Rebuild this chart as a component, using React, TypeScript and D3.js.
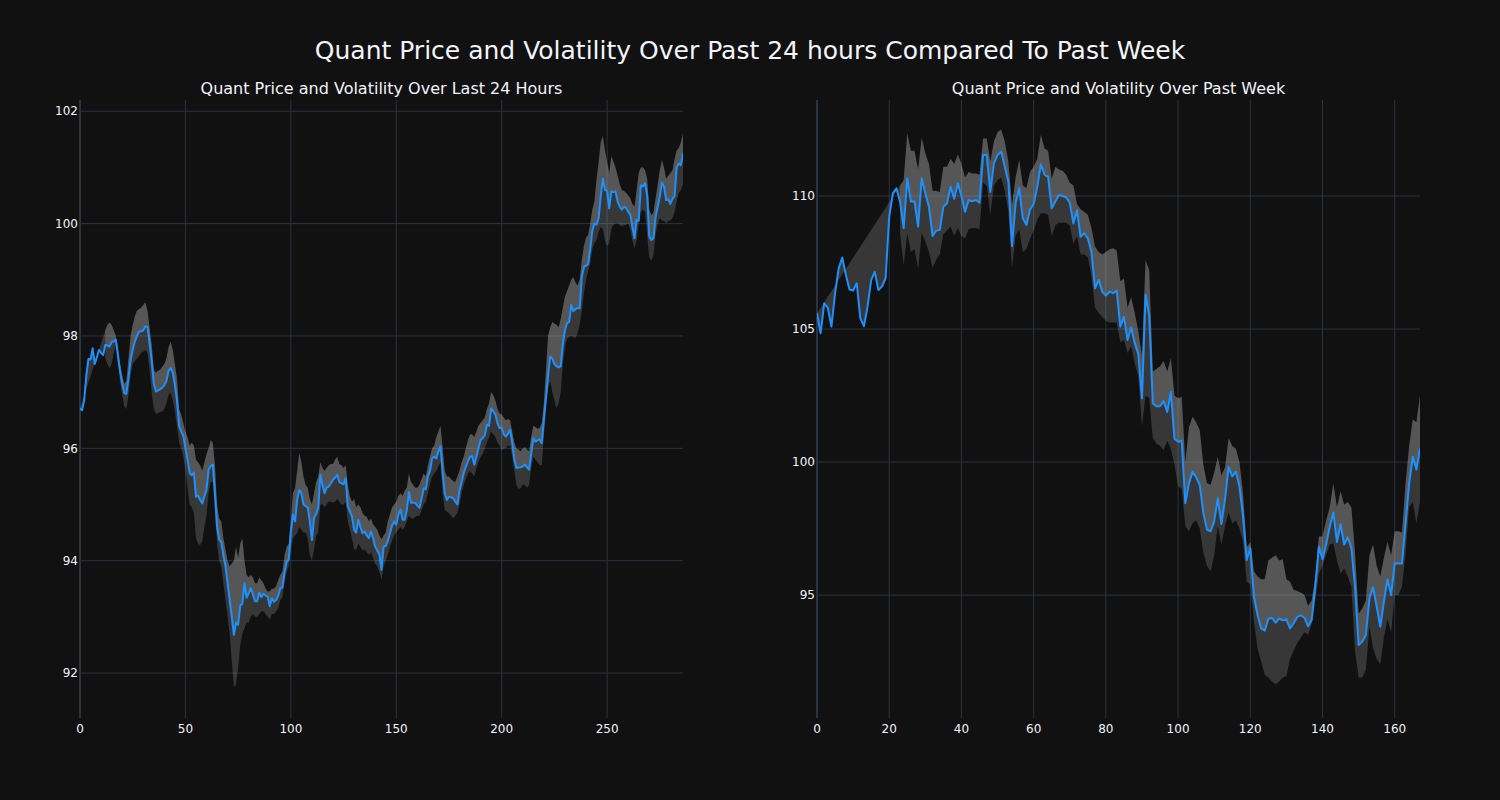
import React from "react";
import * as d3 from "d3";

// ---------- DATA ----------
const mainTitle = "Quant Price and Volatility Over Past 24 hours Compared To Past Week";
const dayTitle = "Quant Price and Volatility Over Last 24 Hours";
const weekTitle = "Quant Price and Volatility Over Past Week";

// 24h price (5‑minute steps, index 0..286)
const dayPrice = [
  96.71, 96.68, 96.86, 97.3, 97.59, 97.58, 97.78, 97.5, 97.62, 97.75,
  97.7, 97.66, 97.84, 97.83, 97.81, 97.89, 97.9, 97.93, 97.65, 97.38,
  97.15, 96.98, 96.97, 97.25, 97.57, 97.75, 97.9, 98.0, 98.08, 98.08,
  98.1, 98.17, 98.16, 97.87, 97.55, 97.15, 97.01, 97.03, 97.05, 97.08,
  97.12, 97.2, 97.38, 97.43, 97.35, 97.13, 96.85, 96.4, 96.3, 96.22,
  96.0, 95.8, 95.56, 95.52, 95.57, 95.14, 95.16, 95.08, 95.02, 95.15,
  95.26, 95.62, 95.68, 95.71, 95.2, 94.6, 94.38, 94.33, 94.1, 93.9,
  93.6, 93.3, 93.0, 92.68, 92.9, 92.86, 93.2, 93.23, 93.6, 93.34,
  93.42, 93.51, 93.4, 93.28, 93.28, 93.43, 93.35, 93.41, 93.38, 93.36,
  93.19, 93.33, 93.27, 93.3, 93.37, 93.51, 93.52, 93.8, 93.98, 94.02,
  94.5, 94.82, 94.7, 95.08, 95.26, 95.2, 95.0, 94.97, 94.95, 94.7,
  94.37, 94.76, 94.83, 94.94, 95.53, 95.35, 95.2, 95.3, 95.32, 95.38,
  95.44, 95.48, 95.53, 95.4, 95.38, 95.36, 95.47, 94.97, 94.88, 94.79,
  94.55, 94.5, 94.73, 94.6, 94.49, 94.52, 94.45, 94.4, 94.52, 94.4,
  94.25, 94.18, 94.11, 93.84, 94.25, 94.26, 94.35, 94.49, 94.62, 94.7,
  94.64, 94.82, 94.91, 94.73, 94.73, 94.9, 95.22, 95.03, 95.03, 95.03,
  94.98, 94.94, 95.1, 95.29, 95.27, 95.5, 95.6, 95.82, 95.85, 95.82,
  95.95, 96.04, 95.56, 95.2, 95.08, 95.14, 95.13, 95.11, 95.05, 95.0,
  95.25, 95.4, 95.56, 95.67, 95.77, 95.85, 95.86, 95.71, 95.85, 96.0,
  96.15, 96.18, 96.23, 96.42, 96.4, 96.71, 96.66, 96.6, 96.45, 96.36,
  96.36, 96.25, 96.21, 96.26, 96.33, 96.1, 95.8, 95.65, 95.66, 95.66,
  95.68, 95.71, 95.66, 95.62, 95.9, 96.18, 96.12, 96.14, 96.16, 96.09,
  96.5, 96.9, 97.3, 97.63, 97.6, 97.5, 97.46, 97.44, 97.46, 97.85,
  98.1, 98.23, 98.25, 98.55, 98.44, 98.48, 98.5, 98.49, 99.05, 99.23,
  99.25, 99.28, 99.55, 99.88, 100.0, 99.98, 100.1, 100.5, 100.8, 100.6,
  100.58, 100.27, 100.57, 100.56, 100.57, 100.39, 100.3, 100.25, 100.3, 100.28,
  100.21, 100.16, 99.94, 99.74, 100.07, 100.05, 100.68, 100.66, 100.72, 100.5,
  99.77, 99.71, 99.74, 100.12, 100.3, 100.48, 100.73, 100.66, 100.42, 100.43,
  100.35, 100.44, 100.49, 101.0, 101.07, 101.04, 101.25,
];

// first index where the 24h band exists
const dayBandStart = 12;

// 24h upper band, indices 12..286
const dayUpper = [
  98.1, 98.2, 98.24, 98.2, 98.1, 98.0, 97.8, 97.5,
  97.3, 97.15, 97.2, 97.6, 98.0, 98.2, 98.35, 98.45, 98.48, 98.5,
  98.55, 98.6, 98.45, 98.15, 97.85, 97.4, 97.35, 97.38, 97.4, 97.45,
  97.5, 97.6, 97.8, 97.9, 97.75, 97.5, 97.25, 96.7, 96.6, 96.45,
  96.3, 96.2, 96.05, 96.1, 96.05, 95.8, 95.75, 95.7, 95.6, 95.75,
  95.9, 96.0, 96.15, 96.1, 95.7, 95.0, 94.75, 94.7, 94.4, 94.2,
  94.0, 93.9, 93.95, 94.0, 94.25, 94.05, 94.3, 94.4, 94.0, 93.75,
  93.7, 93.75, 93.7, 93.6, 93.6, 93.7, 93.65, 93.6, 93.5, 93.45,
  93.45, 93.5, 93.5, 93.55, 93.65, 93.75, 93.8, 94.1, 94.25, 94.3,
  94.7, 95.2, 95.3, 95.6, 95.92, 95.75, 95.5, 95.35, 95.3, 95.1,
  95.0, 95.2, 95.4, 95.5, 95.75, 95.65, 95.6, 95.65, 95.7, 95.72,
  95.72, 95.8, 95.85, 95.72, 95.7, 95.65, 95.7, 95.35, 95.15, 95.05,
  95.1, 94.95, 95.0, 94.95, 94.85, 94.8, 94.78, 94.7, 94.75, 94.65,
  94.6, 94.55, 94.45, 94.38, 94.45, 94.5, 94.7, 94.82, 94.95, 95.0,
  95.05, 95.15, 95.2, 95.15, 95.25, 95.3, 95.55, 95.4, 95.35, 95.3,
  95.3, 95.35, 95.45, 95.55, 95.5, 95.7, 95.85, 96.0, 96.05, 96.2,
  96.3, 96.4, 96.0, 95.6, 95.5, 95.5, 95.45, 95.42, 95.4, 95.5,
  95.6, 95.75, 95.85, 96.0, 96.15, 96.25, 96.25, 96.2, 96.3, 96.4,
  96.45, 96.5, 96.55, 96.7, 96.8, 97.0, 96.95, 96.85, 96.7, 96.62,
  96.6, 96.55, 96.5, 96.52, 96.5, 96.3, 96.1, 96.0, 95.98, 95.95,
  96.0, 96.02, 95.98, 95.95, 96.2, 96.4, 96.38, 96.35, 96.36, 96.45,
  96.8, 97.4, 98.0, 98.15, 98.25, 98.22, 98.2, 98.15, 98.3, 98.5,
  98.7, 98.8, 98.9, 99.0, 99.05, 98.95, 98.9, 99.0, 99.35, 99.6,
  99.75, 99.8, 100.0, 100.25, 100.4, 100.8, 101.1, 101.45, 101.56, 101.3,
  101.1, 100.9, 101.2, 101.1, 101.0, 100.85, 100.7, 100.6, 100.58, 100.55,
  100.5, 100.45, 100.35, 100.3, 100.6, 100.9, 101.0, 101.0, 100.95, 100.8,
  100.25, 100.15, 100.2, 100.45, 100.7, 100.95, 101.13, 101.0, 100.8, 100.85,
  100.9, 100.95, 101.15, 101.3, 101.35, 101.45, 101.6,
];

// 24h lower band, indices 12..286
const dayLower = [
  97.6, 97.5, 97.43, 97.5, 97.7, 97.85, 97.5, 97.2,
  96.95, 96.75, 96.7, 96.95, 97.3, 97.5, 97.55, 97.6, 97.65, 97.7,
  97.72, 97.75, 97.7, 97.4, 97.0, 96.7, 96.62, 96.62, 96.65, 96.65,
  96.7, 96.8, 96.95, 97.0, 96.85, 96.65, 96.4, 96.1, 96.0, 95.85,
  95.6, 95.3, 95.0, 94.95, 94.85, 94.4, 94.3, 94.28, 94.35, 94.6,
  94.8, 95.2, 95.4, 95.4, 94.9, 94.3, 94.0, 93.9, 93.6, 93.3,
  93.0, 92.7, 92.2, 91.75, 91.8, 92.1, 92.5, 92.7, 92.8, 92.9,
  92.9, 93.0, 93.05, 93.0, 93.0, 93.05, 93.1, 93.1, 93.05, 93.0,
  92.95, 93.05, 93.05, 93.1, 93.15, 93.3, 93.35, 93.6, 93.8, 93.9,
  94.2, 94.4, 94.45, 94.5, 94.6, 94.55, 94.5, 94.5, 94.4, 94.1,
  94.0, 94.2, 94.45, 94.5, 95.0, 95.0, 94.95, 95.0, 95.05, 95.05,
  95.03, 95.05, 95.1, 95.05, 95.0, 95.0, 95.05, 94.7, 94.55, 94.4,
  94.2, 94.2, 94.3, 94.25, 94.18, 94.2, 94.15, 94.1, 94.15, 94.05,
  93.95, 93.9, 93.8, 93.66, 93.9, 94.0, 94.1, 94.25, 94.35, 94.45,
  94.5, 94.55, 94.6, 94.55, 94.6, 94.7, 94.8, 94.75, 94.75, 94.78,
  94.8, 94.8, 94.9, 95.0, 95.05, 95.2, 95.35, 95.5, 95.55, 95.6,
  95.68, 95.75, 95.2, 94.9, 94.87, 94.85, 94.8, 94.75, 94.8, 94.85,
  95.0, 95.2, 95.35, 95.45, 95.55, 95.6, 95.55, 95.5, 95.65, 95.75,
  95.85, 95.9, 96.0, 96.1, 96.2, 96.3, 96.25, 96.2, 96.1, 96.05,
  95.96, 96.0, 96.0, 96.05, 96.05, 95.85, 95.6, 95.35, 95.27, 95.3,
  95.35, 95.35, 95.3, 95.35, 95.65, 95.85, 95.8, 95.75, 95.7, 95.7,
  96.2, 96.7, 97.05, 97.2, 97.0, 96.85, 96.72, 96.8, 97.0, 97.5,
  97.8, 97.95, 97.98, 98.0, 97.98, 97.96, 98.05, 98.2, 98.45, 98.75,
  99.0, 99.16, 99.3, 99.55, 99.65, 99.71, 99.85, 99.94, 99.9, 99.7,
  99.6, 99.65, 99.9, 99.98, 100.0, 100.0, 99.98, 99.95, 99.97, 99.98,
  100.0, 99.9, 99.7, 99.56, 99.7, 100.0, 100.2, 100.25, 100.2, 99.8,
  99.4, 99.34, 99.45, 99.8, 100.0, 100.1, 100.05, 100.05, 100.0, 100.05,
  100.05, 100.1, 100.2, 100.4, 100.55, 100.6, 100.7,
];

// week price (hourly, index 0..167)
const weekPrice = [
  105.59, 104.84, 105.97, 105.8, 105.09, 106.34, 107.28, 107.69, 107.03, 106.49,
  106.45, 106.72, 105.4, 105.11, 105.84, 106.84, 107.15, 106.47, 106.6, 106.91,
  109.22, 110.1, 110.29, 109.79, 108.79, 110.67, 109.79, 109.8, 108.85, 110.67,
  110.1, 109.6, 108.5, 108.7, 108.72, 109.6, 109.73, 110.35, 109.9, 110.48,
  110.0, 109.41, 109.85, 109.8, 109.85, 109.75, 111.54, 111.54, 110.16, 111.23,
  111.54, 111.67, 111.1, 110.54, 108.12, 109.72, 110.29, 109.16, 108.91, 109.5,
  109.7, 110.35, 111.19, 110.8, 110.72, 109.54, 109.79, 110.04, 110.0, 109.95,
  109.75, 108.97, 109.47, 108.47, 108.6, 108.41, 107.9, 106.53, 106.85, 106.4,
  106.26, 106.4, 106.35, 106.44, 105.09, 105.46, 104.59, 105.06, 104.47, 104.05,
  102.39, 106.3, 105.5, 102.2, 102.1, 102.1, 102.29, 101.88, 102.63, 100.88,
  100.76, 100.8, 98.45, 99.2, 99.64, 99.43, 99.14, 98.08, 97.46, 97.4,
  97.77, 98.64, 97.67, 98.6, 99.81, 99.46, 99.64, 99.08, 97.95, 96.32,
  96.76, 94.94, 94.25, 93.75, 93.66, 94.11, 94.14, 93.96, 94.12, 94.05,
  94.09, 93.75, 93.94, 94.18, 94.24, 94.14, 93.83, 94.06, 95.32, 96.82,
  96.35, 96.9, 97.57, 98.1, 97.0, 97.66, 96.9, 97.17, 96.76, 95.32,
  93.12, 93.25, 93.5, 94.88, 95.29, 94.57, 93.81, 94.75, 95.59, 95.0,
  96.19, 96.19, 96.19, 97.69, 99.2, 100.2, 99.72, 100.51,
];

const weekBandStart = 23;

// week upper band, indices 23..167
const weekUpper = [
  110.4, 110.6, 112.36, 111.7, 111.7, 111.0, 112.2,
  111.6, 111.2, 110.2, 110.2, 110.15, 111.1, 111.1, 111.4, 111.2, 111.56,
  111.2, 110.7, 110.9, 110.85, 110.85, 110.8, 112.16, 112.16, 111.3, 112.05,
  112.4, 112.5, 112.05, 111.3, 109.65, 110.7, 111.35, 110.4, 110.3, 110.9,
  111.1, 111.4, 112.3, 111.8, 111.7, 110.65, 111.1, 111.0, 110.95, 110.8,
  110.5, 110.4, 109.7, 109.5, 109.4, 109.3, 108.8, 108.1, 107.9, 107.8,
  107.9, 108.0, 108.04, 107.95, 106.8, 106.9, 105.8, 106.2, 105.6, 104.9,
  104.0, 107.6, 107.2, 103.4, 103.5, 103.6, 103.8, 103.4, 103.9, 102.5,
  102.4, 102.45, 100.0, 101.3, 101.7, 101.5, 101.2, 99.9, 99.2, 99.15,
  99.6, 100.2, 99.5, 99.8, 100.9, 100.6, 100.5, 100.0, 98.8, 96.8,
  97.0, 95.9, 95.7, 95.6, 95.6, 96.3, 96.4, 96.5, 96.3, 96.35,
  95.6, 95.5, 95.2, 95.15, 95.1, 95.0, 94.6, 94.8, 95.7, 97.2,
  97.2, 97.8, 98.3, 99.2, 98.3, 98.9, 98.4, 98.5, 98.3, 96.6,
  94.3, 94.5, 94.8, 96.5, 96.9, 96.1, 95.7, 96.4, 97.0, 96.5,
  97.4, 97.4, 97.35, 99.2, 100.6, 101.6, 101.5, 102.5,
];

// week lower band, indices 23..167
const weekLower = [
  108.6, 107.4, 108.6, 107.9, 108.0, 107.25, 108.6,
  108.3, 107.9, 107.3, 107.6, 107.8, 108.57, 108.7, 108.85, 108.5, 108.8,
  108.5, 108.4, 108.75, 108.8, 108.8, 108.75, 110.5, 110.4, 109.3, 110.4,
  110.6, 110.7, 110.2, 109.4, 107.3, 108.5, 108.75, 107.9, 108.0, 108.4,
  108.7, 109.1, 109.35, 109.35, 109.3, 108.5, 108.9, 109.0, 109.0, 109.0,
  108.9, 108.2, 108.5, 107.8, 107.8, 107.7, 107.0, 105.8, 105.6, 105.45,
  105.3, 105.25, 105.25, 105.25, 104.5, 104.6, 104.1, 104.35, 103.7, 103.2,
  101.35, 102.5, 102.4, 100.9, 100.7, 100.6, 100.45, 100.8, 100.5, 99.9,
  99.1, 99.0, 97.6, 97.4, 97.7, 97.8, 97.5, 96.6, 96.1, 95.9,
  96.5, 97.6, 96.9, 97.6, 98.1, 97.7, 97.8, 97.5, 97.0, 95.5,
  95.4, 94.0, 93.0, 92.5, 92.0, 91.9, 91.75, 91.65, 91.75, 91.9,
  91.95, 92.6, 92.9, 93.2, 93.4, 93.6, 93.5, 93.9, 94.8, 95.8,
  96.1, 96.5, 96.9, 96.95, 96.3, 95.8, 96.0, 95.7, 95.3, 92.9,
  91.9, 91.9, 92.2, 93.8, 93.0, 92.6, 92.4, 93.4, 94.1, 93.6,
  95.0, 95.0, 95.3, 96.6, 98.3, 98.5, 97.7, 98.5,
];

const dayXTicks = [0, 50, 100, 150, 200, 250];
const dayYTicks = [92, 94, 96, 98, 100, 102];
const weekXTicks = [0, 20, 40, 60, 80, 100, 120, 140, 160];
const weekYTicks = [95, 100, 105, 110];

// ---------- STYLE ----------
const W = 1500;
const H = 800;
const BG = "#111111";
const GRID = "#283442";
const TEXT = "#f2f5fa";
const LINE = "#1e90ff";
const BAND = "rgba(211,211,211,0.2)";
const FONT = "'DejaVu Sans', Verdana, sans-serif";

type PanelProps = {
  title: string;
  left: number;
  width: number;
  top: number;
  height: number;
  price: number[];
  upper: number[];
  lower: number[];
  bandStart: number;
  xDomain: [number, number];
  yDomain: [number, number];
  xTicks: number[];
  yTicks: number[];
};

function Panel(p: PanelProps) {
  const x = d3.scaleLinear().domain(p.xDomain).range([p.left, p.left + p.width]);
  const y = d3.scaleLinear().domain(p.yDomain).range([p.top + p.height, p.top]);

  type Pt = [number, number];
  const pricePts: Pt[] = p.price.map((v, i) => [i, v]);
  const upperPts: Pt[] = p.upper.map((v, i) => [i + p.bandStart, v]);
  const lowerPts: Pt[] = p.lower.map((v, i) => [i + p.bandStart, v]);

  const gen = d3
    .line<Pt>()
    .x((d) => x(d[0]))
    .y((d) => y(d[1]));

  // fill between price and upper (tonexty-style polygon, closes back to the start)
  const fillA = gen([...upperPts, ...pricePts.slice().reverse()]) + "Z";
  // fill between upper and lower
  const fillB = gen([...lowerPts, ...upperPts.slice().reverse()]) + "Z";
  const pricePath = gen(pricePts) || "";

  const bottom = p.top + p.height;
  const clipId = `clip-${p.left}`;

  return (
    <g>
      <defs>
        <clipPath id={clipId}>
          <rect x={p.left} y={p.top} width={p.width} height={p.height} />
        </clipPath>
      </defs>
      {p.xTicks.map((t) => (
        <line
          key={`gx${t}`}
          x1={x(t)}
          x2={x(t)}
          y1={p.top}
          y2={bottom}
          stroke={GRID}
          strokeWidth={t === 0 ? 2 : 1}
        />
      ))}
      {p.yTicks.map((t) => (
        <line
          key={`gy${t}`}
          x1={p.left}
          x2={p.left + p.width}
          y1={y(t)}
          y2={y(t)}
          stroke={GRID}
          strokeWidth={1}
        />
      ))}
      <g clipPath={`url(#${clipId})`}>
        <path d={fillA} fill={BAND} stroke="none" />
        <path d={fillB} fill={BAND} stroke="none" />
        <path d={pricePath} fill="none" stroke={LINE} strokeWidth={2} strokeLinejoin="round" />
      </g>
      {p.xTicks.map((t) => (
        <text
          key={`tx${t}`}
          x={x(t)}
          y={bottom + 15}
          textAnchor="middle"
          fontSize={12}
          fill={TEXT}
          fontFamily={FONT}
        >
          {t}
        </text>
      ))}
      {p.yTicks.map((t) => (
        <text
          key={`ty${t}`}
          x={p.left - 2}
          y={y(t)}
          dy="0.35em"
          textAnchor="end"
          fontSize={12}
          fill={TEXT}
          fontFamily={FONT}
        >
          {t}
        </text>
      ))}
      <text
        x={p.left + p.width / 2}
        y={94}
        textAnchor="middle"
        fontSize={16}
        fill={TEXT}
        fontFamily={FONT}
      >
        {p.title}
      </text>
    </g>
  );
}

export default function App() {
  const top = 100;
  const height = 618;
  return (
    <svg
      width={W}
      height={H}
      style={{ display: "block", position: "absolute", left: 0, top: 0, background: BG }}
    >
      <rect x={0} y={0} width={W} height={H} fill={BG} />
      <text
        x={W / 2}
        y={59}
        textAnchor="middle"
        fontSize={25}
        fill={TEXT}
        fontFamily={FONT}
      >
        {mainTitle}
      </text>
      <Panel
        title={dayTitle}
        left={80}
        width={603}
        top={top}
        height={height}
        price={dayPrice}
        upper={dayUpper}
        lower={dayLower}
        bandStart={dayBandStart}
        xDomain={[0, dayPrice.length - 1]}
        yDomain={[91.2, 102.2]}
        xTicks={dayXTicks}
        yTicks={dayYTicks}
      />
      <Panel
        title={weekTitle}
        left={817}
        width={603}
        top={top}
        height={height}
        price={weekPrice}
        upper={weekUpper}
        lower={weekLower}
        bandStart={weekBandStart}
        xDomain={[0, weekPrice.length - 1]}
        yDomain={[90.38, 113.61]}
        xTicks={weekXTicks}
        yTicks={weekYTicks}
      />
    </svg>
  );
}
